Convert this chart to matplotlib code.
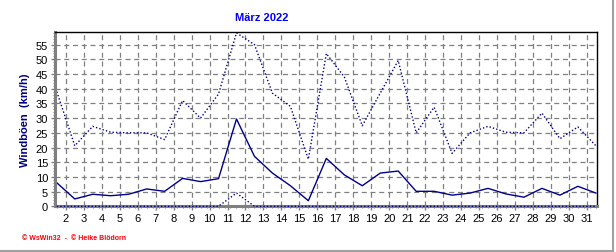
"""Monthly wind gust chart (März 2022) in the old WsWin32 look.

Solid line is the daily mean wind, the dotted lines the daily max / min gusts.
Saves out.png (616x253).
"""

import matplotlib

matplotlib.use("Agg")
import matplotlib.pyplot as plt
from matplotlib.lines import Line2D
from matplotlib.ticker import MultipleLocator

DAYS = list(range(1, 32))
GUST_MAX = [39, 20.6, 27.2, 25.2, 25, 25, 22.7, 36, 30, 38.2, 59, 55, 38.5, 34, 16,
            52, 44, 27.4, 38.5, 49.6, 25, 33.7, 18, 25, 27.2, 25.2, 25, 31.7, 23, 27, 20.6]
WIND_MEAN = [8, 2.5, 4.1, 3.6, 4.1, 5.9, 5.1, 9.5, 8.4, 9.4, 29.7, 17, 11.3, 7, 1.9,
             16.3, 10.7, 7, 11.3, 12, 5.1, 5.1, 3.8, 4.5, 6.1, 4.2, 3.1, 6.1, 3.8, 6.8, 4.5]
GUST_MIN = [0] * 10 + [4.5] + [0] * 20
TICK_DAYS = list(range(2, 32))

W, H = 616, 253
BLUE = "#00008B"
GRID = "#808080"


def main():
    plt.rcParams["font.family"] = ["Liberation Sans", "DejaVu Sans"]
    fig = plt.figure(figsize=(W / 100, H / 100), dpi=100)
    ax = fig.add_axes([55 / W, 1 - 207.3 / H, 542.3 / W, 174 / H])

    ax.plot(DAYS, GUST_MAX, color=BLUE, lw=1.0, ls=(0, (1, 1.5)))
    # min gusts sit on zero most days, keep them visible above the grey axis
    ax.plot(DAYS, GUST_MIN, color=BLUE, lw=1.0, ls=(0, (1, 1.5)), zorder=3, clip_on=False)
    ax.plot(DAYS, WIND_MEAN, color=BLUE, lw=1.0)

    ax.set_xlim(0.9, 31.08)
    ax.set_ylim(0, 59.2)

    # tick "k" sits half a day before the point of day k
    ax.set_xticks([d - 0.5 for d in TICK_DAYS])
    ax.set_xticklabels([str(d) for d in TICK_DAYS])
    ax.xaxis.set_minor_locator(MultipleLocator(1 / 3))
    ax.yaxis.set_major_locator(MultipleLocator(5))
    ax.yaxis.set_minor_locator(MultipleLocator(1))
    ax.tick_params(which="both", direction="out", color=GRID, labelsize=8, pad=2)
    ax.tick_params(which="major", length=3, width=1)
    ax.tick_params(which="minor", length=1.5, width=0.8)
    ax.tick_params(axis="y", pad=2)

    ax.grid(True, which="major", color=GRID, ls=(0, (4, 3)), lw=0.9)
    ax.set_axisbelow(True)

    for side in ("left", "bottom"):
        ax.spines[side].set_color(GRID)
        ax.spines[side].set_linewidth(2.2)
    for side in ("top", "right"):
        ax.spines[side].set_color("black")
        ax.spines[side].set_linewidth(1.0)

    fig.text(262 / W, 1 - 18 / H, "März 2022", color="#0000FF", fontsize=8,
             fontweight="bold", ha="center", va="center")
    fig.text(25 / W, 1 - 120 / H, "Windböen  (km/h)", color="#000080", fontsize=8,
             fontweight="bold", rotation=90, ha="center", va="center")
    fig.text(22 / W, 1 - 239 / H, "© WsWin32  -  © Heike Blödorn", color="red",
             fontsize=5, fontweight="bold", ha="left", va="center")

    # grey frame at the right and bottom of the picture
    fig.add_artist(Line2D([612.5 / W, 612.5 / W], [0, 1], color="#A0A0A0", lw=1.5))
    fig.add_artist(Line2D([0, 613 / W], [1.5 / H, 1.5 / H], color="#A0A0A0", lw=1.5))

    fig.savefig("out.png", dpi=100)


if __name__ == "__main__":
    main()
